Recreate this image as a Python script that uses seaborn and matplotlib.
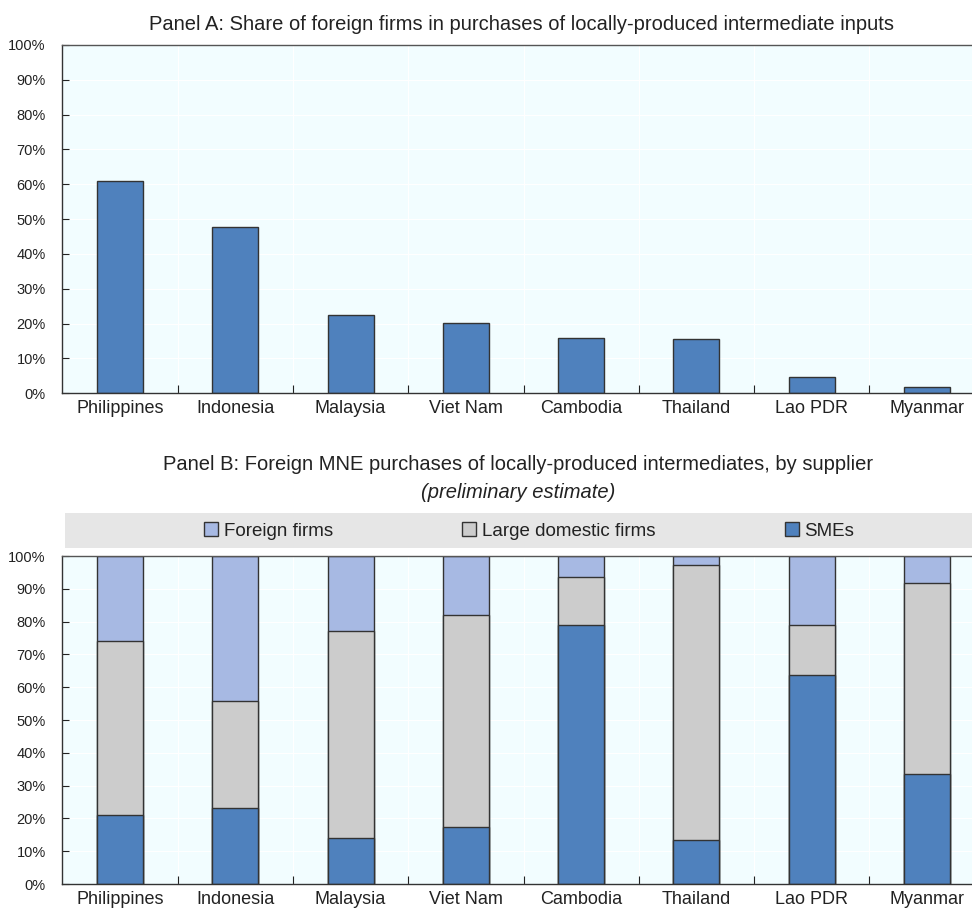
import numpy as np
import pandas as pd
import matplotlib
matplotlib.use("Agg")
import matplotlib.pyplot as plt
import seaborn as sns
from matplotlib.patches import Rectangle, Patch
from matplotlib.ticker import FixedLocator, PercentFormatter

# data
countries = ["Philippines", "Indonesia", "Malaysia", "Viet Nam",
             "Cambodia", "Thailand", "Lao PDR", "Myanmar"]
foreign_share = [60.9, 47.8, 22.4, 20.2, 15.9, 15.5, 4.7, 1.9]

sme = [21.1, 23.2, 13.9, 17.5, 79.0, 13.3, 63.7, 33.4]
large_domestic = [52.9, 32.6, 63.3, 64.4, 14.5, 84.1, 15.3, 58.4]
foreign_firms = [26.0, 44.2, 22.8, 18.1, 6.5, 2.6, 21.0, 8.2]

C_SME = "#4F81BD"
C_LARGE = "#CCCCCC"
C_FOREIGN = "#A7B9E3"
C_EDGE = "#333333"
C_BG = "#F2FDFF"

sns.set_style("white")
plt.rcParams["font.family"] = ["Liberation Sans Narrow", "Liberation Sans", "DejaVu Sans"]
plt.rcParams["text.color"] = "#222222"


def style_axis(ax):
    ax.set_facecolor(C_BG)
    ax.set_xlim(-0.5, 7.5)
    ax.set_ylim(0, 100)
    ax.set_yticks(np.arange(0, 101, 10))
    ax.yaxis.set_major_formatter(PercentFormatter(decimals=0))
    ax.xaxis.set_minor_locator(FixedLocator(np.arange(0.5, 7, 1)))
    ax.tick_params(axis="y", direction="in", length=5, width=0.8, pad=12,
                   labelsize=10.5, colors="#222222", left=True)
    ax.tick_params(axis="x", which="major", length=0, pad=5, labelsize=13,
                   colors="#222222")
    ax.tick_params(axis="x", which="minor", direction="in", length=6,
                   width=0.8, color="#222222", bottom=True)
    ax.grid(True, axis="y", color="white", linewidth=0.8)
    ax.grid(True, axis="x", which="minor", color="white", linewidth=0.8)
    ax.set_axisbelow(True)
    ax.set_xlabel("")
    ax.set_ylabel("")
    for side in ["left", "bottom", "top"]:
        ax.spines[side].set_visible(True)
        ax.spines[side].set_color("#333333")
        ax.spines[side].set_linewidth(1.0)
    ax.spines["top"].set_color("#555555")
    ax.spines["right"].set_visible(False)


fig = plt.figure(figsize=(9.72, 9.09), dpi=100)
ax1 = fig.add_axes([0.0642, 1 - 393.3 / 909, 0.9488, 348.3 / 909])
ax2 = fig.add_axes([0.0642, 1 - 884 / 909, 0.9488, 328 / 909])

# Panel A
dfa = pd.DataFrame({"country": countries, "share": foreign_share})
sns.barplot(data=dfa, x="country", y="share", color=C_SME, width=0.4,
            edgecolor=C_EDGE, linewidth=1.0, saturation=1, ax=ax1)
style_axis(ax1)

# Panel B: layered cumulative bars give the stacked look
dfb = pd.DataFrame({"country": countries, "sme": sme,
                    "large": large_domestic, "foreign": foreign_firms})
dfb["top_large"] = dfb["sme"] + dfb["large"]
dfb["top_foreign"] = dfb["top_large"] + dfb["foreign"]
for col, colr in [("top_foreign", C_FOREIGN), ("top_large", C_LARGE), ("sme", C_SME)]:
    sns.barplot(data=dfb, x="country", y=col, color=colr, width=0.4,
                edgecolor=C_EDGE, linewidth=1.0, saturation=1, ax=ax2)
style_axis(ax2)

# titles
fig.text(0.537, 1 - 24 / 909, "Panel A: Share of foreign firms in purchases of locally-produced intermediate inputs",
         ha="center", va="center", fontsize=14.5)
fig.text(0.533, 1 - 465 / 909, "Panel B: Foreign MNE purchases of locally-produced intermediates, by supplier",
         ha="center", va="center", fontsize=14.5)
fig.text(0.533, 1 - 493 / 909, "(preliminary estimate)", ha="center", va="center",
         fontsize=14.5, style="italic")

# legend band
fig.patches.append(Rectangle((65 / 972, 1 - 548 / 909), 0.95, 35 / 909,
                             transform=fig.transFigure, facecolor="#E6E6E6",
                             edgecolor="none", zorder=0))
handles = [Patch(facecolor=C_FOREIGN, edgecolor=C_EDGE, label="Foreign firms"),
           Patch(facecolor=C_LARGE, edgecolor=C_EDGE, label="Large domestic firms"),
           Patch(facecolor=C_SME, edgecolor=C_EDGE, label="SMEs")]
fig.legend(handles=handles, loc="center", bbox_to_anchor=(529 / 972, 1 - 531 / 909),
           ncol=3, frameon=False, fontsize=13.5, handlelength=0.75,
           handleheight=0.75, handletextpad=0.3, columnspacing=6.9)

fig.savefig("out.png", dpi=100)
